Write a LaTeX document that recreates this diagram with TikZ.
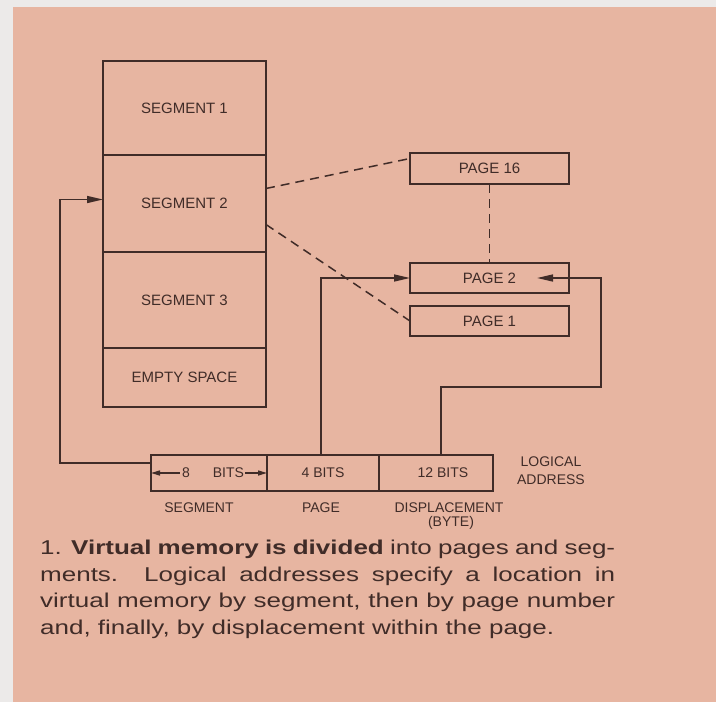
\documentclass[tikz,border=0pt]{standalone}
\usepackage{fontspec}
\setmainfont{Liberation Sans}
\newfontfamily\capfont[FakeStretch=1.3]{Liberation Sans}
\usetikzlibrary{positioning,arrows.meta}
\definecolor{paper}{RGB}{231,181,161}
\definecolor{margin}{RGB}{236,234,233}
\definecolor{ink}{RGB}{64,44,40}

\begin{document}
\begin{tikzpicture}[x=1pt,y=-1pt,
  box/.style={draw=ink,line width=1.5pt,inner sep=0pt,outer sep=0pt,text=ink,font=\fontsize{15}{18}\selectfont},
  lbl/.style={inner sep=0pt,text=ink,font=\fontsize{14}{14}\selectfont},
  wire/.style={draw=ink,line width=1.5pt},
  tip/.style={-{Triangle[length=16pt,width=7pt]}},
  smalltip/.style={-{Triangle[length=9pt,width=5pt]}},
  dashline/.style={draw=ink,line width=1.5pt,dash pattern=on 9pt off 6pt}]
  \fill[margin] (0,0) rectangle (716,702);
  \fill[paper] (13,7) rectangle (716,702);
  % memory column
  \node[box,minimum width=163pt,minimum height=94pt] (seg1) at (184.5,108) {SEGMENT 1};
  \node[box,minimum width=163pt,minimum height=97pt,below=0pt of seg1] (seg2) {SEGMENT 2};
  \node[box,minimum width=163pt,minimum height=96pt,below=0pt of seg2] (seg3) {SEGMENT 3};
  \node[box,minimum width=163pt,minimum height=59pt,below=0pt of seg3] (empty) {EMPTY SPACE};
  % pages
  \node[box,minimum width=159pt,minimum height=31pt] (p16) at (489.5,168.5) {PAGE 16};
  \node[box,minimum width=159pt,minimum height=30pt] (p2) at (489.5,278) {PAGE 2};
  \node[box,minimum width=159pt,minimum height=30pt] (p1) at (489.5,321) {PAGE 1};
  % logical address
  \node[box,minimum width=116pt,minimum height=36pt,font=\fontsize{14}{14}\selectfont] (bseg) at (209,473) {};
  \node[box,minimum width=112pt,minimum height=36pt,font=\fontsize{14}{14}\selectfont,right=0pt of bseg] (bpage) {4 BITS};
  \node[box,minimum width=114pt,minimum height=36pt,font=\fontsize{14}{14}\selectfont,right=0pt of bpage] (bdisp) {\hspace{14pt}12 BITS};
  \node[lbl,xshift=4pt] (eight) at (bseg) {8\hspace{23pt}BITS};
  \draw[wire,smalltip] ([xshift=-2pt]eight.west) -- (bseg.west);
  \draw[wire,smalltip] ([xshift=1pt]eight.east) -- (bseg.east);
  \node[lbl,align=center,font=\fontsize{14}{18}\selectfont] (logaddr) at (551,471) {LOGICAL\\ADDRESS};
  \node[lbl] (lseg) at (199,508) {SEGMENT};
  \node[lbl] (lpage) at (321,508) {PAGE};
  \node[lbl] (ldisp) at (449,508) {DISPLACEMENT};
  \node[lbl] (lbyte) at (451,523) {(BYTE)};
  % segment field points into the memory
  \draw[wire,tip] ([yshift=10pt]bseg.west) -- ++(-91,0) |- ([yshift=4pt]seg2.west);
  % page field
  \draw[wire,tip] ([xshift=-2pt]bpage.north) |- (p2.west);
  % displacement field
  \coordinate (turn) at (601,387);
  \coordinate (p2in) at (537,278);
  \draw[wire,tip] ([xshift=5pt]bdisp.north) |- (turn) |- (p2in);
  % dashed links from segment 2 to its pages
  \draw[dashline] ([yshift=15pt]seg2.east) -- ([yshift=10pt]p16.west);
  \draw[dashline] ([yshift=-21pt]seg2.east) -- (p1.west);
  \draw[dashline] (p16.south) -- (p2.north);
  % caption
  \node[anchor=north west,inner sep=0pt,text width=575pt,align=justify,text=ink,
    font=\capfont\fontsize{20}{26.5}\selectfont] (caption) at (40,540)
    {\tolerance=9999 1. \textbf{Virtual memory is divided} into pages and seg-\linebreak
     ments. Logical addresses specify a location in\linebreak
     virtual memory by segment, then by page number\linebreak
     and, finally, by displacement within the page.};
\end{tikzpicture}
\end{document}
